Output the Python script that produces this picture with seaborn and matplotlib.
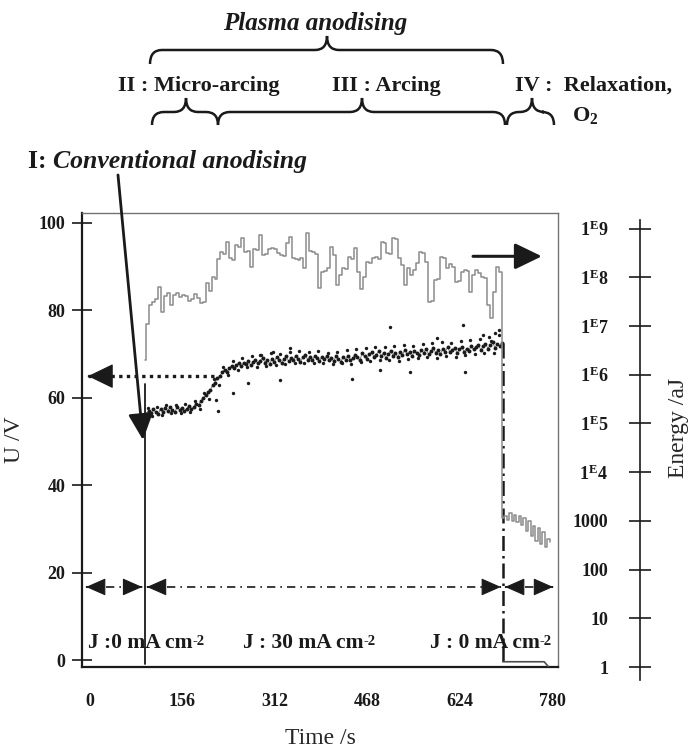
import numpy as np
import matplotlib
matplotlib.use('Agg')
import matplotlib.pyplot as plt
from matplotlib.path import Path
from matplotlib.patches import PathPatch
from matplotlib.ticker import NullLocator
import seaborn as sns

sns.set_theme(style='white')
plt.rcParams['font.family'] = ['Liberation Serif', 'DejaVu Serif']
plt.rcParams['mathtext.fontset'] = 'custom'
plt.rcParams['mathtext.rm'] = 'Liberation Serif'
plt.rcParams['mathtext.bf'] = 'Liberation Serif:bold'
plt.rcParams['mathtext.it'] = 'Liberation Serif:italic'

# ---- data ----
t_on = 93      # current switched on (s)
t_off = 696    # current switched off (s)

# voltage U (V), main band every 4 s from 95 s
u_time = np.arange(95, 696, 4)
u_volt = [56.2, 57.0, 56.4, 57.3, 56.7, 56.3, 57.4, 56.8, 57.6, 56.9,
          57.8, 57.1, 56.6, 57.9, 57.2, 57.7, 56.9, 57.5, 58.1, 57.3,
          57.9, 58.6, 58.2, 59.3, 59.8, 60.6, 61.2, 61.8, 62.9, 63.4,
          64.5, 64.9, 65.8, 66.4, 65.9, 66.8, 67.3, 66.7, 67.5, 67.9,
          67.2, 68.0, 67.6, 68.3, 67.4, 68.1, 68.6, 67.8, 68.4, 69.1,
          68.0, 68.7, 67.7, 68.9, 68.2, 69.3, 68.5, 67.9, 68.8, 69.4,
          68.3, 69.0, 68.6, 69.6, 68.9, 68.2, 69.2, 69.8, 68.7, 69.3,
          68.5, 69.5, 69.0, 68.4, 69.2, 68.8, 69.4, 68.6, 69.1, 68.3,
          69.5, 68.9, 68.2, 69.3, 68.7, 69.6, 68.5, 69.0, 69.8, 69.2,
          68.6, 70.1, 69.4, 68.9, 69.9, 70.4, 69.3, 69.8, 70.6, 69.5,
          70.2, 69.0, 70.0, 70.7, 69.6, 70.3, 69.2, 70.5, 69.8, 70.9,
          69.9, 70.4, 69.4, 70.6, 70.1, 69.7, 70.8, 70.2, 71.1, 69.9,
          70.6, 71.3, 70.3, 70.8, 70.0, 71.2, 70.5, 71.5, 70.4, 70.9,
          71.4, 70.2, 71.0, 71.6, 70.5, 71.2, 70.7, 71.8, 71.0, 71.5,
          72.1, 70.9, 71.7, 72.3, 71.2, 72.0, 72.6, 71.4, 72.2, 71.8,
          72.4]
# second, sparser row of points in the band
u2_time = np.arange(97, 690, 8)
u2_volt = [57.6, 55.9, 57.9, 56.1, 58.2, 56.4, 58.4, 56.5, 58.6, 56.8,
           59.2, 57.4, 61.0, 59.6, 64.3, 62.8, 67.0, 65.2, 68.3, 66.4,
           69.0, 66.9, 69.4, 67.1, 69.8, 67.3, 70.1, 67.5, 70.0, 67.6,
           70.4, 67.8, 70.6, 67.9, 70.5, 68.0, 70.7, 67.8, 70.3, 67.6,
           70.5, 67.9, 70.8, 67.7, 71.0, 68.1, 71.3, 68.3, 71.6, 68.5,
           71.5, 68.6, 71.9, 68.4, 72.0, 68.8, 71.8, 69.0, 72.3, 69.2,
           72.5, 69.1, 72.7, 69.5, 72.4, 69.3, 73.0, 69.7, 73.2, 69.9,
           73.4, 70.2, 73.8, 70.1, 74.2]
# stray points
u_out_time = [213, 216, 241, 266, 287, 309, 320, 337, 442, 489, 506, 540, 585, 629, 632, 663, 676, 683, 690]
u_out_volt = [59.5, 57.0, 61.0, 63.3, 69.7, 70.4, 64.0, 71.3, 64.2, 66.3, 76.1, 65.8, 73.6, 76.6, 65.8, 74.3, 73.0, 74.7, 75.5]
u_on = [-1.0, 63.0]                     # jump when current starts
u_relax_time = [t_off, 766, 773]
u_relax_volt = [-0.4, -0.4, -1.5]

# energy (log10 aJ), step trace
e_time = np.concatenate([[t_on], np.arange(95, 691, 5), np.arange(695, 776, 4)])
e_exp = [6.3,
         7.05, 7.43, 7.50, 7.55, 7.80, 7.29, 7.62, 7.68, 7.43, 7.64,
         7.67, 7.60, 7.64, 7.62, 7.52, 7.56, 7.66, 7.58, 7.47, 7.49,
         7.88, 7.72, 8.00, 7.96, 8.38, 8.52, 8.48, 8.73, 8.40, 8.36,
         8.66, 8.62, 8.81, 8.52, 8.55, 8.21, 8.59, 8.57, 8.87, 8.45,
         8.47, 8.59, 8.60, 8.58, 8.50, 8.45, 8.43, 8.70, 8.83, 8.40,
         8.38, 8.36, 8.40, 8.19, 8.90, 8.55, 8.52, 8.48, 7.78, 8.10,
         8.12, 8.19, 8.62, 8.45, 7.84, 8.05, 8.19, 8.17, 8.42, 8.38,
         8.60, 8.10, 7.75, 8.00, 8.32, 8.30, 8.40, 8.42, 8.38, 8.73,
         8.70, 8.50, 8.48, 8.80, 8.78, 8.40, 8.25, 7.84, 8.20, 8.05,
         8.15, 8.30, 8.52, 8.50, 8.32, 7.50, 7.52, 7.95, 7.97, 8.42,
         8.40, 8.20, 8.28, 8.22, 7.90, 7.92, 8.10, 8.15, 8.12, 7.70,
         8.05, 8.15, 8.08, 8.00, 7.98, 7.43, 7.17, 7.70, 8.21, 8.10,
         3.06, 3.10, 3.02, 3.16, 3.00, 3.12, 2.98, 3.10, 2.92, 3.05,
         2.80, 3.00, 2.68, 2.90, 2.58, 2.85, 2.52, 2.78, 2.46, 2.62,
         2.57]
energy = 10.0 ** np.array(e_exp)

x_ticks = [0, 156, 312, 468, 624, 780]
u_ticks = [0, 20, 40, 60, 80, 100]
e_ticks = [1, 10, 100, 1000, 1e4, 1e5, 1e6, 1e7, 1e8, 1e9]
e_labels = ['1', '10', '100', '1000', r'$\mathbf{1^{E}4}$', r'$\mathbf{1^{E}5}$',
            r'$\mathbf{1^{E}6}$', r'$\mathbf{1^{E}7}$', r'$\mathbf{1^{E}8}$', r'$\mathbf{1^{E}9}$']

# ---- figure ----
W, H = 692, 753
fig = plt.figure(figsize=(W / 100, H / 100), dpi=100)
ax = fig.add_axes([82 / W, 1 - 667 / H, 476 / W, 454 / H])

sns.scatterplot(x=u_time, y=u_volt, ax=ax, color='k', s=8, linewidth=0, zorder=3)
sns.scatterplot(x=u2_time, y=u2_volt, ax=ax, color='k', s=6, linewidth=0, zorder=3)
sns.scatterplot(x=u_out_time, y=u_out_volt, ax=ax, color='k', s=6, linewidth=0, zorder=3)
ax.plot(u_time, u_volt, color='k', lw=0.6, alpha=0.6, zorder=3)
ax.plot([t_on, t_on], u_on, color='k', lw=1.3, zorder=3)
ax.plot([t_off, t_off], [u_volt[-1], u_relax_volt[0]], color='k', lw=1.8, ls=(0, (6, 2, 1, 2)), zorder=3)
ax.plot(u_relax_time, u_relax_volt, color='0.3', lw=1.2, zorder=3)

ax.set_xlim(-13.5, 789.3)
ax.set_ylim(-1.6, 102.2)
ax.set_xticks(x_ticks)
ax.set_yticks(u_ticks)
ax.tick_params(axis='x', direction='inout', length=22, width=1.2, pad=8, labelsize=13, colors='k')
ax.tick_params(axis='y', direction='inout', length=14, width=1.2, pad=5, labelsize=13, colors='k')
for lab in ax.get_xticklabels() + ax.get_yticklabels():
    lab.set_fontweight('bold')
for s in ['left', 'bottom']:
    ax.spines[s].set_color('k')
    ax.spines[s].set_linewidth(1.6)
for s in ['top', 'right']:
    ax.spines[s].set_color('0.45')
    ax.spines[s].set_linewidth(1.0)
ax.set_xlabel('Time /s', fontsize=17, labelpad=13)
ax.set_ylabel('U /V', fontsize=17)
ax.yaxis.set_label_coords(-0.12, 0.5)

# energy axis
ax2 = ax.twinx()
ax2.set_yscale('log')
sns.lineplot(x=e_time, y=energy, ax=ax2, drawstyle='steps-post', color='0.55', lw=1.1,
             estimator=None, sort=False)
ax2.set_ylim(1, 10 ** 9.32)
ax2.set_yticks(e_ticks)
ax2.set_yticklabels(e_labels)
ax2.yaxis.set_minor_locator(NullLocator())
for s in ['left', 'top', 'bottom']:
    ax2.spines[s].set_visible(False)
ax2.spines['right'].set_position(('axes', (640 - 82) / 476))
ax2.spines['right'].set_color('k')
ax2.spines['right'].set_linewidth(1.2)
ax2.spines['right'].set_bounds(0.54, 1.5e9)
ax2.tick_params(axis='y', direction='inout', length=16, width=1.2, pad=-31, labelsize=13, colors='k')
for lab in ax2.get_yticklabels():
    lab.set_fontweight('bold')
    lab.set_horizontalalignment('right')
ax2.set_ylabel('Energy /aJ', fontsize=17)
ax2.yaxis.set_label_coords((668 - 82) / 476, (667 - 428) / 454)


# ---- arrows ----
def head(x, y, d, hl=1.25, hw=0.55):
    ax.annotate('', xy=(x, y), xytext=(x - d, y), annotation_clip=False,
                arrowprops=dict(arrowstyle=f'-|>,head_length={hl},head_width={hw}', color='k',
                                lw=0.8, shrinkA=0, shrinkB=0, mutation_scale=10))


y_j = 16.7
dashdot = (0, (5, 3, 1, 3))
for x0, x1 in [(-6.7, 88), (96, 693), (700, 781)]:
    ax.plot([x0, x1], [y_j, y_j], color='k', lw=1.2, ls=dashdot, clip_on=False)
    head(x0, y_j, -1)
    head(x1, y_j, 1)

# U arrow (dotted)
ax.plot([-3.4, 214], [64.9, 64.9], color='k', lw=2.4, ls=(0, (1, 1.3)), clip_on=False)
head(-3.4, 64.9, -1, hl=1.65, hw=0.8)
# energy arrow
ax.annotate('', xy=(762, 92.3), xytext=(646, 92.3), annotation_clip=False,
            arrowprops=dict(arrowstyle='-|>,head_length=1.65,head_width=0.8', color='k',
                            lw=2.2, shrinkA=0, shrinkB=0, mutation_scale=10))
# conventional anodising arrow
ax.annotate('', xy=(89.4, 50.3), xytext=(47.2, 110.9), annotation_clip=False,
            arrowprops=dict(arrowstyle='-|>,head_length=1.6,head_width=0.75', color='k',
                            lw=2.0, shrinkA=0, shrinkB=0, mutation_scale=10))

# ---- overlay for labels and braces (pixel coordinates) ----
ov = fig.add_axes([0, 0, 1, 1], zorder=10)
ov.set_xlim(0, W)
ov.set_ylim(H, 0)
ov.axis('off')


def brace(x0, x1, xm, y_end, y_mid, y_tip, r=12):
    verts = [(x0, y_end), (x0, y_mid), (x0 + r, y_mid), (xm - r, y_mid), (xm, y_mid), (xm, y_tip),
             (xm, y_mid), (xm + r, y_mid), (x1 - r, y_mid), (x1, y_mid), (x1, y_end)]
    codes = [Path.MOVETO, Path.CURVE3, Path.CURVE3, Path.LINETO, Path.CURVE3, Path.CURVE3,
             Path.CURVE3, Path.CURVE3, Path.LINETO, Path.CURVE3, Path.CURVE3]
    ov.add_patch(PathPatch(Path(verts, codes), fill=False, lw=1.8, ec='k'))


brace(150, 503, 327, 64, 50, 36)
brace(152, 218, 186, 125, 112, 98)
brace(218, 505, 362, 125, 112, 98)
brace(507, 554, 532, 125, 112, 98)

bold = dict(fontweight='bold', color='k', va='baseline', ha='left')
ov.text(315, 30, 'Plasma anodising', fontsize=18, fontstyle='italic', **{**bold, 'ha': 'center'})
ov.text(118, 91, 'II : Micro-arcing', fontsize=16, **bold)
ov.text(332, 91, 'III : Arcing', fontsize=16, **bold)
ov.text(515, 91, 'IV :  Relaxation,', fontsize=16, **bold)
ov.text(572, 121, r'O$_{\mathbf{2}}$', fontsize=16, **bold)
t1 = ov.text(28, 168, 'I: ', fontsize=18.5, **bold)
ov.annotate('Conventional anodising', xy=(1, 0), xycoords=t1, fontsize=18.5, fontweight='bold',
            fontstyle='italic', va='bottom', ha='left', color='k')
for xj, lab in [(88, 'J :0 mA cm'), (243, 'J : 30 mA cm'), (430, 'J : 0 mA cm')]:
    tj = ov.text(xj, 648, lab, fontsize=15.5, **bold)
    ov.annotate('-2', xy=(1, 0.92), xycoords=tj, fontsize=10.5, fontweight='bold',
                va='top', ha='left', color='k')

fig.savefig('out.png', dpi=100)
